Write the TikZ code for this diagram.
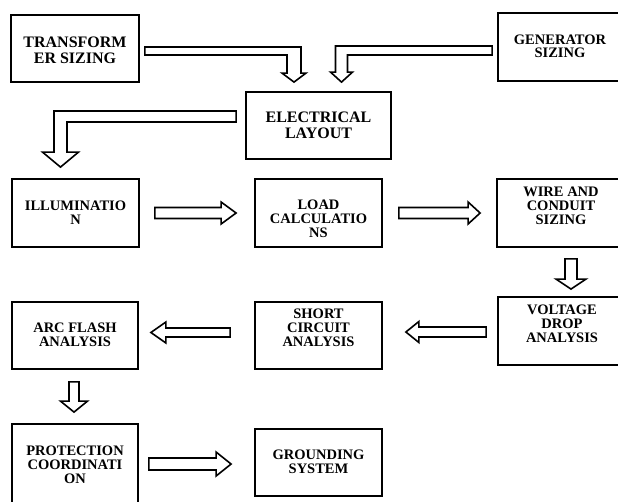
\documentclass[tikz,border=0pt]{standalone}
\usepackage{fontspec}
\setmainfont{Liberation Serif}
\usetikzlibrary{calc}

\begin{document}
\begin{tikzpicture}[
	y=1pt,
	x=1pt,
	scale=1,
	box/.style={draw=black, line width=1.8pt, inner sep=0pt},
	txt/.style={align=center, inner sep=0pt,
		font=\bfseries\fontsize{14.5}{14}\selectfont},
	bigtxt/.style={txt, font=\bfseries\fontsize{16}{16}\selectfont},
	blk/.style={draw=black, fill=white, line width=1.6pt, line join=miter}] {

\clip (0,0) rectangle (618,-501);

% block arrows: tail, tip, half shaft, half head, head length
\def\hblock#1#2#3#4#5{%
  \draw[blk] let \p1=(#1), \p2=(#2), \n1={sign(\x2-\x1)} in
    (\x1,\y1+#3) -- (\x2-\n1*#5,\y1+#3) -- (\x2-\n1*#5,\y1+#4)
    -- (\x2,\y1) -- (\x2-\n1*#5,\y1-#4) -- (\x2-\n1*#5,\y1-#3)
    -- (\x1,\y1-#3) -- cycle;}
\def\vblock#1#2#3#4#5{%
  \draw[blk] let \p1=(#1), \p2=(#2), \n1={sign(\y2-\y1)} in
    (\x1+#3,\y1) -- (\x1+#3,\y2-\n1*#5) -- (\x1+#4,\y2-\n1*#5)
    -- (\x1,\y2) -- (\x1-#4,\y2-\n1*#5) -- (\x1-#3,\y2-\n1*#5)
    -- (\x1-#3,\y1) -- cycle;}
% bent one: tail, tip, half band, half shaft, half head, head length
\def\bblock#1#2#3#4#5#6{%
  \draw[blk] let \p1=(#1), \p2=(#2), \n1={sign(\x2-\x1)} in
    (\x1,\y1+#3) -- (\x2+\n1*#4,\y1+#3) -- (\x2+\n1*#4,\y2+#6)
    -- (\x2+\n1*#5,\y2+#6) -- (\x2,\y2) -- (\x2-\n1*#5,\y2+#6)
    -- (\x2-\n1*#4,\y2+#6) -- (\x2-\n1*#4,\y1-#3) -- (\x1,\y1-#3) -- cycle;}

% top row
\node[box, minimum width=128, minimum height=67] (trans) at (75,-48.5) {};
\node[bigtxt] (trans-t) at ([yshift=-1.5]trans.center) {TRANSFORM\\ER SIZING};
\node[box, minimum width=124, minimum height=68] (gen) at (560,-47) {};
\node[txt, font=\bfseries\fontsize{14.5}{13.5}\selectfont] (gen-t)
    at ([yshift=0.5]gen.center) {GENERATOR\\SIZING};
\node[box, minimum width=145, minimum height=67] (elec) at (318.5,-125.5) {};
\node[bigtxt] (elec-t) at (elec.center) {ELECTRICAL\\LAYOUT};

% second row
\node[box, minimum width=127, minimum height=68] (illum) at (75.5,-213) {};
\node[txt] (illum-t) at (illum.center) {ILLUMINATIO\\N};
\node[box, minimum width=127, minimum height=68] (load) at (318.5,-213) {};
\node[txt] (load-t) at ([yshift=-6]load.center) {LOAD\\CALCULATIO\\NS};
\node[box, minimum width=128, minimum height=68] (wire) at (561,-213) {};
\node[txt] (wire-t) at ([yshift=7]wire.center) {WIRE AND\\CONDUIT\\SIZING};

% third row
\node[box, minimum width=128, minimum height=68] (volt) at (562,-331) {};
\node[txt] (volt-t) at ([yshift=7.5]volt.center) {VOLTAGE\\DROP\\ANALYSIS};
\node[box, minimum width=127, minimum height=67] (short) at (318.5,-335.5) {};
\node[txt] (short-t) at ([yshift=7.5]short.center) {SHORT\\CIRCUIT\\ANALYSIS};
\node[box, minimum width=126, minimum height=67] (arc) at (75,-335.5) {};
\node[txt] (arc-t) at ([yshift=1]arc.center) {ARC FLASH\\ANALYSIS};

% bottom row
\node[box, minimum width=126, minimum height=86] (prot) at (75,-467) {};
\node[txt] (prot-t) at ([yshift=2]prot.center) {PROTECTION\\COORDINATI\\ON};
\node[box, minimum width=127, minimum height=67] (ground) at (318.5,-462.5) {};
\node[txt] (ground-t) at ([yshift=1]ground.center) {GROUNDING\\SYSTEM};

% ends of the arrows
\coordinate (a1) at ([xshift=5,yshift=-2.5]trans.east);
\coordinate (b1) at ([xshift=-24.5,yshift=9]elec.north);
\coordinate (a2) at ([xshift=-5,yshift=-3.5]gen.west);
\coordinate (b2) at ([xshift=23,yshift=9]elec.north);
\coordinate (a3) at ([xshift=-9,yshift=9]elec.west);
\coordinate (b3) at ([xshift=-15,yshift=11]illum.north);
\coordinate (a4) at ([xshift=15]illum.east);
\coordinate (b4) at ([xshift=-18]load.west);
\coordinate (a5) at ([xshift=16]load.east);
\coordinate (b5) at ([xshift=-16]wire.west);
\coordinate (a6) at ([xshift=10,yshift=-11]wire.south);
\coordinate (b6) at ([xshift=9,yshift=7]volt.north);
\coordinate (a7) at ([xshift=-11,yshift=-1]volt.west);
\coordinate (b7) at ([xshift=23,yshift=3.5]short.east);
\coordinate (a8) at ([xshift=-24,yshift=3]short.west);
\coordinate (b8) at ([xshift=12,yshift=3]arc.east);
\coordinate (a9) at ([xshift=-1,yshift=-12]arc.south);
\coordinate (b9) at ([xshift=-1,yshift=11]prot.north);
\coordinate (a10) at ([xshift=10,yshift=3]prot.east);
\coordinate (b10) at ([xshift=-23,yshift=-1.5]ground.west);

% links
\bblock{a1}{b1}{4}{7}{12}{9}
\bblock{a2}{b2}{4.5}{6}{11}{10}
\bblock{a3}{b3}{5.5}{6.5}{18}{15}
\hblock{a4}{b4}{5.5}{11}{15}
\hblock{a5}{b5}{5.5}{11}{12}
\vblock{a6}{b6}{6}{15}{10}
\hblock{a7}{b7}{5}{10.5}{13}
\hblock{a8}{b8}{4.5}{10.5}{15}
\vblock{a9}{b9}{5}{13.5}{11}
\hblock{a10}{b10}{6}{12}{15}
}\end{tikzpicture}
\end{document}
